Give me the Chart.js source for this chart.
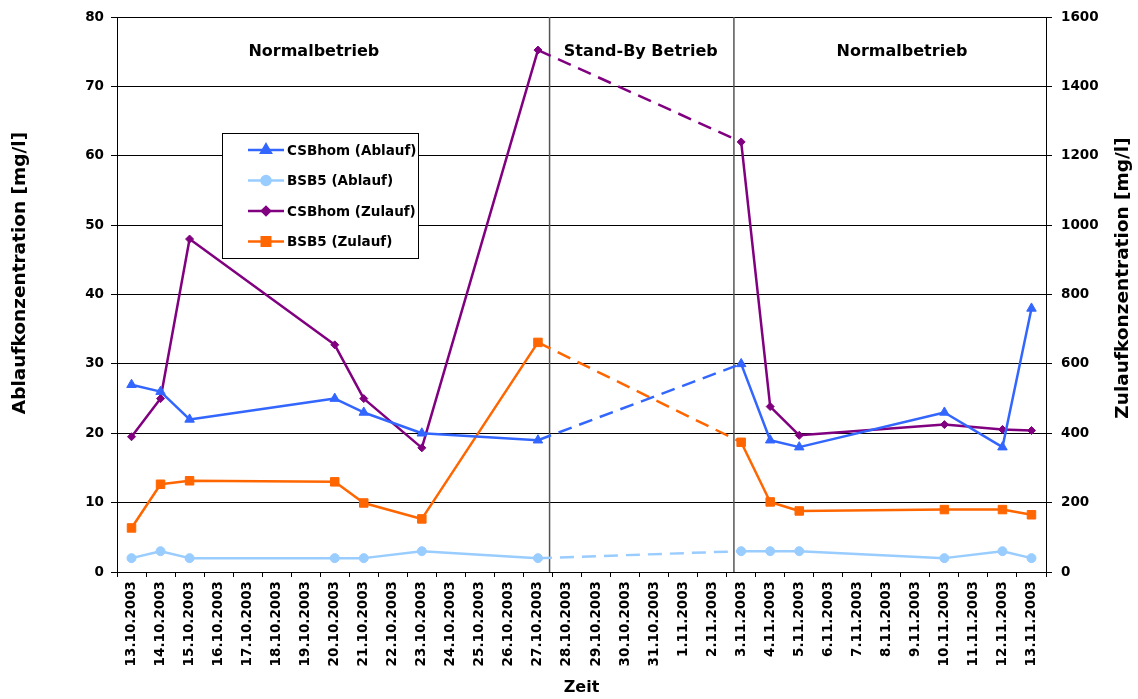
<!DOCTYPE html>
<html>
<head>
<meta charset="utf-8">
<title>Ablauf- und Zulaufkonzentration</title>
<script src="https://cdn.jsdelivr.net/npm/chart.js@4.4.1/dist/chart.umd.min.js"></script>
<style>
  html, body { margin: 0; padding: 0; background: #fff; }
  canvas { display: block; }
</style>
</head>
<body>
<canvas id="chart" width="1138" height="699"></canvas>
<script>
// Sampling days (category axis)
const dates = [
  '13.10.2003', '14.10.2003', '15.10.2003', '16.10.2003', '17.10.2003', '18.10.2003',
  '19.10.2003', '20.10.2003', '21.10.2003', '22.10.2003', '23.10.2003', '24.10.2003',
  '25.10.2003', '26.10.2003', '27.10.2003', '28.10.2003', '29.10.2003', '30.10.2003',
  '31.10.2003', '1.11.2003', '2.11.2003', '3.11.2003', '4.11.2003', '5.11.2003',
  '6.11.2003', '7.11.2003', '8.11.2003', '9.11.2003', '10.11.2003', '11.11.2003',
  '12.11.2003', '13.11.2003'
];

// Effluent concentrations [mg/l] (left axis); null = no sample that day
const csbAblauf = [27, 26, 22, null, null, null, null, 25, 23, null, 20, null, null, null, 19,
  null, null, null, null, null, null, 30, 19, 18, null, null, null, null, 23, null, 18, 38];
const bsbAblauf = [2, 3, 2, null, null, null, null, 2, 2, null, 3, null, null, null, 2,
  null, null, null, null, null, null, 3, 3, 3, null, null, null, null, 2, null, 3, 2];

// Influent concentrations [mg/l] (right axis)
const csbZulauf = [390, 500, 960, null, null, null, null, 655, 500, null, 358, null, null, null, 1505,
  null, null, null, null, null, null, 1240, 477, 394, null, null, null, null, 425, null, 411, 408];
const bsbZulauf = [127, 253, 263, null, null, null, null, 260, 199, null, 153, null, null, null, 662,
  null, null, null, null, null, null, 374, 202, 176, null, null, null, null, 180, null, 180, 165];

// Axis ticks
const leftTicks = [0, 10, 20, 30, 40, 50, 60, 70, 80];
const rightTicks = [0, 200, 400, 600, 800, 1000, 1200, 1400, 1600];

// Operating phases
const phaseNames = ['Normalbetrieb', 'Stand-By Betrieb', 'Normalbetrieb'];
const standByFrom = '27.10.2003';
const standByTo = '3.11.2003';

const FONT = 'DejaVu Sans';

const iFrom = dates.indexOf(standByFrom);
const iTo = dates.indexOf(standByTo);

// Only sampled days become points, so the stand-by gap is one single segment
const toPoints = values => dates
  .map((d, i) => ({ x: d, y: values[i] }))
  .filter(p => p.y !== null);

// The segment bridging the stand-by period is dashed
const standBySegment = {
  borderDash: ctx => {
    const pts = ctx.chart.data.datasets[ctx.datasetIndex].data;
    const a = pts[ctx.p0DataIndex], b = pts[ctx.p1DataIndex];
    return (a && b && a.x === standByFrom && b.x === standByTo) ? [14, 8] : undefined;
  }
};

function series(label, values, color, pointStyle, radius, axis) {
  return {
    label, data: toPoints(values), yAxisID: axis,
    borderColor: color, backgroundColor: color,
    pointBackgroundColor: color, pointBorderColor: color,
    pointStyle, pointRadius: radius, pointBorderWidth: 1,
    borderWidth: 2.5, tension: 0,
    borderJoinStyle: 'round',
    segment: standBySegment
  };
}

const datasets = [
  series('CSBhom (Ablauf)', csbAblauf, '#3366FF', 'triangle', 5.5, 'y'),
  series('BSB5 (Ablauf)', bsbAblauf, '#99CCFF', 'circle', 4.5, 'y'),
  series('CSBhom (Zulauf)', csbZulauf, '#800080', 'rectRot', 4, 'y2'),
  series('BSB5 (Zulauf)', bsbZulauf, '#FF6600', 'rect', 6, 'y2')
];

// Phase separators, phase captions, axis titles and the boxed legend
const decorations = {
  id: 'decorations',
  beforeDatasetsDraw(chart) {
    const { ctx, chartArea: a, scales: { x } } = chart;
    const step = x.getPixelForValue(1) - x.getPixelForValue(0);
    const cuts = [x.getPixelForValue(iFrom) + 0.4 * step,
                  x.getPixelForValue(iTo) - 0.25 * step];
    ctx.save();
    ctx.strokeStyle = '#555';
    ctx.lineWidth = 1.5;
    cuts.forEach(px => {
      ctx.beginPath();
      ctx.moveTo(px, a.top);
      ctx.lineTo(px, a.bottom);
      ctx.stroke();
    });
    // phase captions
    ctx.fillStyle = '#000';
    ctx.font = `bold 16px "${FONT}"`;
    ctx.textAlign = 'center';
    ctx.textBaseline = 'middle';
    const capY = chart.scales.y.getPixelForValue(75);
    const capX = [x.getPixelForValue(6.28), x.getPixelForValue(17.54), x.getPixelForValue(26.54)];
    phaseNames.forEach((t, i) => ctx.fillText(t, capX[i], capY));
    ctx.restore();
  },
  afterDraw(chart) {
    const { ctx, chartArea: a } = chart;
    ctx.save();
    ctx.fillStyle = '#000';
    ctx.textAlign = 'center';
    ctx.textBaseline = 'middle';
    ctx.font = `bold 18.5px "${FONT}"`;
    ctx.save();
    ctx.translate(20, 273);
    ctx.rotate(-Math.PI / 2);
    ctx.fillText('Ablaufkonzentration [mg/l]', 0, 0);
    ctx.restore();
    ctx.save();
    ctx.translate(1123, 278);
    ctx.rotate(-Math.PI / 2);
    ctx.fillText('Zulaufkonzentration [mg/l]', 0, 0);
    ctx.restore();
    ctx.font = `bold 16px "${FONT}"`;
    ctx.fillText('Zeit', (a.left + a.right) / 2, 688);

    // legend box
    const bx = 222, by = 133, bw = 196, bh = 125;
    ctx.fillStyle = '#fff';
    ctx.fillRect(bx, by, bw, bh);
    ctx.strokeStyle = '#000';
    ctx.lineWidth = 1;
    ctx.strokeRect(bx + 0.5, by + 0.5, bw, bh);
    ctx.font = `bold 13.5px "${FONT}"`;
    ctx.textAlign = 'left';
    chart.data.datasets.forEach((ds, i) => {
      const yy = by + 17 + i * 30.5;
      ctx.strokeStyle = ds.borderColor;
      ctx.lineWidth = 2.5;
      ctx.beginPath();
      ctx.moveTo(bx + 26, yy);
      ctx.lineTo(bx + 62, yy);
      ctx.stroke();
      ctx.fillStyle = ds.borderColor;
      Chart.helpers.drawPoint(ctx, {
        pointStyle: ds.pointStyle, radius: ds.pointRadius, borderWidth: 1, rotation: 0
      }, bx + 44, yy);
      ctx.fillStyle = '#000';
      ctx.fillText(ds.label, bx + 65, yy + 1);
    });
    ctx.restore();
  }
};

const tickFont = { family: FONT, weight: 'bold', size: 13.5 };

new Chart(document.getElementById('chart'), {
  type: 'line',
  data: { labels: dates, datasets },
  options: {
    responsive: false,
    animation: false,
    events: [],
    layout: { padding: { top: 16, left: 0, right: 0, bottom: 0 } },
    plugins: { legend: { display: false }, tooltip: { enabled: false } },
    scales: {
      x: {
        type: 'category',
        offset: true,
        grid: { offset: true, drawOnChartArea: false, drawTicks: true, tickLength: 5, color: '#000', lineWidth: 1 },
        border: { color: '#000', width: 1 },
        ticks: {
          autoSkip: false, minRotation: 90, maxRotation: 90, padding: 4,
          color: '#000', font: { family: FONT, weight: 'bold', size: 13.5 }
        },
        afterFit(s) { s.height = 127; }
      },
      y: {
        position: 'left',
        min: leftTicks[0], max: leftTicks[leftTicks.length - 1],
        afterBuildTicks(s) { s.ticks = leftTicks.map(v => ({ value: v })); },
        grid: { color: '#000', lineWidth: 1, tickLength: 6 },
        border: { color: '#000', width: 1 },
        ticks: { color: '#000', font: tickFont, padding: 7, callback: v => String(v) },
        afterFit(s) { s.width = 117; }
      },
      y2: {
        position: 'right',
        min: rightTicks[0], max: rightTicks[rightTicks.length - 1],
        afterBuildTicks(s) { s.ticks = rightTicks.map(v => ({ value: v })); },
        grid: { drawOnChartArea: false, color: '#000', lineWidth: 1, tickLength: 6 },
        border: { color: '#000', width: 1 },
        ticks: { color: '#000', font: tickFont, padding: 9, callback: v => String(v) },
        afterFit(s) { s.width = 92; }
      }
    }
  },
  plugins: [decorations]
});
</script>
</body>
</html>
